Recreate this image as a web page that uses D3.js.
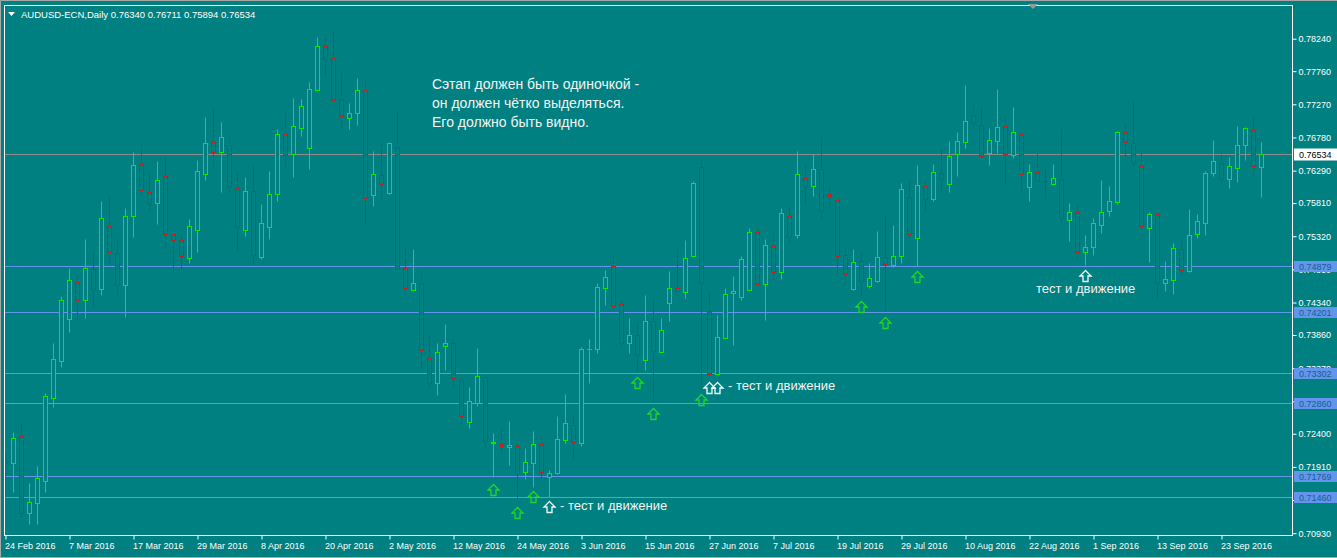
<!DOCTYPE html>
<html>
<head>
<meta charset="utf-8">
<script src="https://cdn.jsdelivr.net/npm/d3@7"></script>
<style>
  html, body { margin: 0; padding: 0; background: #008080; }
  svg { display: block; }
  text { font-family: "Liberation Sans", Arial, sans-serif; }
</style>
</head>
<body>
<svg id="chart" width="1337" height="558"></svg>
<script>
// AUDUSD-ECN daily, 24 Feb 2016 .. end Sep 2016 (one entry per trading day)
const opens = [0.71990,0.71964,0.72367,0.71233,0.71381,0.71706,0.72924,0.73471,0.74092,0.74648,0.74373,0.74831,0.74540,0.75467,0.75068,0.74595,0.75615,0.76383,0.75970,0.75807,
  0.76206,0.75349,0.75260,0.74994,0.75408,0.76235,0.76709,0.76561,0.76664,0.76029,0.75408,0.75984,0.75009,0.75452,0.75940,0.76827,0.76531,0.76916,0.76620,0.77477,
  0.78128,0.77950,0.77344,0.77063,0.77137,0.77477,0.75925,0.76220,0.75955,0.76635,0.74846,0.74521,0.74624,0.73516,0.73146,0.73693,0.73737,0.73205,0.72570,0.72851,
  0.73235,0.72264,0.72245,0.72200,0.72215,0.71831,0.71964,0.72245,0.71757,0.71816,0.72304,0.72525,0.72264,0.73646,0.73649,0.74550,0.74876,0.74314,0.73737,0.73856,
  0.73486,0.74063,0.73604,0.74329,0.74550,0.74491,0.75024,0.76338,0.74211,0.73279,0.73811,0.74476,0.74417,0.74521,0.75378,0.74609,0.75171,0.74787,0.75615,0.75334,
  0.76176,0.76058,0.76310,0.75940,0.75851,0.75038,0.74536,0.74949,0.74580,0.74654,0.75009,0.74890,0.75024,0.75896,0.75290,0.76058,0.75866,0.76250,0.76087,0.76531,
  0.76709,0.77108,0.76960,0.76546,0.76723,0.76945,0.76516,0.76827,0.76044,0.76270,0.76139,0.76087,0.76161,0.75556,0.75674,0.75083,0.75157,0.75482,0.75689,0.75822,
  0.76856,0.76694,0.76353,0.75437,0.75644,0.74624,0.74669,0.75127,0.74802,0.75349,0.75511,0.76250,0.76403,0.76161,0.76324,0.76664,0.76886,0.76340];
const highs = [0.72135,0.72431,0.72564,0.71677,0.71924,0.73007,0.73746,0.74441,0.74850,0.74722,0.75279,0.75117,0.75841,0.75930,0.75279,0.75733,0.76569,0.76669,0.76255,0.76427,
  0.76487,0.75352,0.75349,0.75575,0.76447,0.77078,0.77226,0.77004,0.76783,0.76284,0.76191,0.76368,0.75797,0.76284,0.76901,0.77152,0.77359,0.77344,0.77596,0.78261,
  0.78290,0.78349,0.77743,0.77285,0.77655,0.77655,0.76575,0.76679,0.76709,0.77182,0.75171,0.75127,0.74772,0.73841,0.73737,0.74018,0.73796,0.73235,0.73087,0.73663,
  0.73279,0.72407,0.72481,0.72585,0.72274,0.72185,0.72437,0.72348,0.71860,0.72658,0.72984,0.72688,0.73678,0.73796,0.74624,0.74817,0.75038,0.74373,0.74107,0.74048,
  0.74447,0.74403,0.74107,0.74802,0.75127,0.75260,0.76132,0.76443,0.74506,0.74151,0.74550,0.74728,0.75024,0.75437,0.75437,0.75275,0.75378,0.75733,0.75748,0.76575,
  0.76383,0.76531,0.76787,0.76058,0.75866,0.75171,0.75127,0.75083,0.74920,0.75393,0.75644,0.75482,0.76102,0.76147,0.76368,0.76132,0.76388,0.76635,0.76723,0.76856,
  0.77551,0.77256,0.77241,0.76916,0.77492,0.77078,0.77226,0.76856,0.76388,0.76546,0.76338,0.76383,0.76916,0.75807,0.75792,0.75334,0.75585,0.76147,0.76058,0.76871,
  0.76990,0.77315,0.76561,0.75674,0.75674,0.74949,0.75216,0.75260,0.75718,0.75644,0.76284,0.76738,0.76531,0.76487,0.76945,0.76930,0.77097,0.76711];
const lows = [0.71461,0.71544,0.71165,0.71066,0.71066,0.71544,0.72800,0.73391,0.73909,0.74092,0.74116,0.74270,0.74456,0.74920,0.74447,0.74131,0.75313,0.75940,0.75689,0.75505,
  0.75180,0.74772,0.74840,0.74920,0.75092,0.76147,0.76338,0.75978,0.75984,0.75097,0.75319,0.74905,0.74979,0.75275,0.75836,0.76338,0.76191,0.76797,0.76310,0.77463,
  0.77670,0.77319,0.76930,0.76901,0.76960,0.75482,0.75763,0.75866,0.75940,0.74821,0.74462,0.74511,0.73368,0.73072,0.72978,0.73338,0.73087,0.72525,0.72481,0.72806,
  0.72200,0.71757,0.72111,0.71934,0.71446,0.71727,0.71609,0.71727,0.71470,0.71801,0.72259,0.72008,0.72219,0.73146,0.73590,0.74299,0.74211,0.73693,0.73590,0.73309,
  0.73338,0.72865,0.73590,0.74063,0.74496,0.74403,0.75009,0.73043,0.73250,0.73264,0.73796,0.73708,0.74373,0.74506,0.74536,0.74077,0.74654,0.74683,0.75216,0.75290,
  0.75777,0.75910,0.75570,0.75748,0.74757,0.74609,0.74521,0.74417,0.74550,0.74639,0.74211,0.74861,0.74920,0.75275,0.74876,0.75674,0.75836,0.75970,0.75970,0.76206,
  0.76620,0.76916,0.76457,0.76368,0.76546,0.76087,0.76472,0.75984,0.75836,0.76132,0.75881,0.76073,0.75511,0.75245,0.74994,0.74890,0.75038,0.75363,0.75615,0.75792,
  0.76502,0.76353,0.75423,0.74935,0.74403,0.74506,0.74462,0.74743,0.74787,0.75290,0.75334,0.76206,0.76087,0.76029,0.76117,0.76443,0.76235,0.75894];
const closes = [0.71975,0.72333,0.71233,0.71387,0.71742,0.72958,0.73501,0.74373,0.74669,0.74373,0.74846,0.74540,0.75585,0.75087,0.74595,0.75615,0.76368,0.75999,0.75807,0.76147,
  0.75349,0.75260,0.75024,0.75467,0.76284,0.76694,0.76561,0.76783,0.76044,0.75452,0.75984,0.75038,0.75511,0.75940,0.76827,0.76516,0.76945,0.77241,0.77492,0.78128,
  0.77936,0.77330,0.77097,0.77137,0.77477,0.75881,0.76235,0.76087,0.76694,0.74831,0.74550,0.74624,0.73634,0.73146,0.73604,0.73737,0.73220,0.72658,0.72880,0.73250,
  0.72289,0.72278,0.72215,0.72230,0.71816,0.71979,0.72245,0.71831,0.71816,0.72318,0.72555,0.72274,0.73649,0.73660,0.74565,0.74713,0.74284,0.73737,0.73856,0.73560,
  0.74063,0.73619,0.73930,0.74550,0.74506,0.74994,0.76102,0.74624,0.73279,0.73826,0.74462,0.74506,0.74979,0.75378,0.74609,0.75186,0.74787,0.75659,0.75304,0.76235,
  0.76073,0.76310,0.75689,0.75910,0.75024,0.74757,0.74935,0.74654,0.74698,0.75009,0.74905,0.75024,0.76014,0.75349,0.76073,0.75866,0.76270,0.76161,0.76502,0.76723,
  0.77019,0.76990,0.76502,0.76738,0.76930,0.76531,0.76856,0.76235,0.76270,0.76132,0.76133,0.76176,0.75604,0.75674,0.75083,0.75157,0.75511,0.75674,0.75836,0.76856,
  0.76709,0.76403,0.75467,0.75644,0.74624,0.74683,0.75142,0.74817,0.75334,0.75541,0.76250,0.76427,0.76161,0.76353,0.76664,0.76916,0.76353,0.76534];

// time axis: a label every 8 bars
const dateTickIdx = [0,8,16,24,32,40,48,56,64,72,80,88,96,104,112,120,128,136,144,152];
const dateLabels = ["24 Feb 2016","7 Mar 2016","17 Mar 2016","29 Mar 2016","8 Apr 2016","20 Apr 2016","2 May 2016","12 May 2016",
  "24 May 2016","3 Jun 2016","15 Jun 2016","27 Jun 2016","7 Jul 2016","19 Jul 2016","29 Jul 2016","10 Aug 2016","22 Aug 2016",
  "1 Sep 2016","13 Sep 2016","23 Sep 2016"];
const priceTicks = [0.78240,0.77760,0.77270,0.76780,0.76290,0.75810,0.75320,0.74830,0.74340,0.73860,0.73370,0.72880,0.72400,0.71910,0.71420,0.70930];

// horizontal levels drawn on the chart
const levelPrices = [0.74879,0.74201,0.73302,0.72860,0.71769,0.71460];
const lastPrice = 0.76534;

// arrow marks: bar index, anchor price, kind
const arrowIdx   = [61,64,66,68,79,81,87,88,89,107,110,114,135];
const arrowPrice = [0.71662,0.71322,0.71559,0.71411,0.73239,0.72777,0.72988,0.73170,0.73170,0.74367,0.74122,0.74811,0.74821];
const arrowKind  = ["g","g","g","w","g","g","g","w","w","g","g","g","w"];

const notes = [
  {x: 432, y: 89,  size: 14, t: "Сэтап должен быть одиночкой -"},
  {x: 432, y: 108, size: 14, t: "он должен чётко выделяться."},
  {x: 432, y: 127, size: 14, t: "Его должно быть видно."},
  {x: 560, y: 510, size: 13, t: "- тест и движение"},
  {x: 728, y: 390, size: 13, t: "- тест и движение"},
  {x: 1036, y: 293, size: 13, t: "тест и движение"}
];

const W = 1337, H = 558;
const pLeft = 4, pRight = 1292, pTop = 5, pBottom = 535;
const bg = '#008080', bull = '#00f000', bear = '#c81e1e';

const svg = d3.select('#chart');
svg.append('rect').attr('width', W).attr('height', H).attr('fill', bg);
// window edge
svg.append('path').attr('d', `M0.5,${H} L0.5,0.5 L${W},0.5 M0,${H - 0.5} L${W},${H - 0.5}`)
  .attr('fill', 'none').attr('stroke', '#a8a8a8');

const x = d3.scaleLinear().domain([0, 157]).range([5, 1261]);
const y = d3.scaleLinear().domain([0.7824, 0.7093]).range([38.7, 533.2]);
const px = v => Math.round(x(v)) + 0.5;
const py = v => Math.round(y(v)) + 0.5;

svg.append('defs').append('clipPath').attr('id', 'clip')
  .append('rect').attr('x', pLeft + 1).attr('y', pTop + 1).attr('width', pRight - pLeft - 1).attr('height', pBottom - pTop - 1);
const plot = svg.append('g').attr('clip-path', 'url(#clip)');

// level lines
plot.selectAll('.lvl').data(levelPrices).enter().append('line')
  .attr('x1', pLeft).attr('x2', pRight)
  .attr('y1', d => py(d)).attr('y2', d => py(d))
  .attr('stroke', '#6495ed').attr('stroke-width', 1);

// last price line
plot.append('line').attr('x1', pLeft).attr('x2', pRight)
  .attr('y1', py(lastPrice)).attr('y2', py(lastPrice))
  .attr('stroke', '#8c8c8c');

// candles
const bars = d3.range(opens.length).map(i => ({i, o: opens[i], h: highs[i], l: lows[i], c: closes[i]}));
const candle = plot.selectAll('.candle').data(bars).enter().append('g');
candle.append('line')
  .attr('x1', d => px(d.i)).attr('x2', d => px(d.i))
  .attr('y1', d => py(d.h)).attr('y2', d => py(d.l))
  .attr('stroke', d => d.c >= d.o ? bull : bear);
candle.append('rect')
  .attr('x', d => px(d.i) - 2).attr('width', 4)
  .attr('y', d => py(Math.max(d.o, d.c)))
  .attr('height', d => Math.max(0.01, py(Math.min(d.o, d.c)) - py(Math.max(d.o, d.c))))
  .attr('fill', bg)
  .attr('stroke', d => d.c >= d.o ? bull : bear);

// arrows
const arrowPath = (cx, t) => `M${cx},${t} L${cx + 5.5},${t + 5.5} L${cx + 2.5},${t + 5.5} L${cx + 2.5},${t + 11} ` +
  `L${cx - 2.5},${t + 11} L${cx - 2.5},${t + 5.5} L${cx - 5.5},${t + 5.5} Z`;
plot.selectAll('.arrow').data(arrowIdx).enter().append('path')
  .attr('d', (d, k) => arrowPath(Math.round(x(d)) + 0.5, Math.round(y(arrowPrice[k])) + 0.5))
  .attr('fill', 'none')
  .attr('stroke', (d, k) => arrowKind[k] === 'g' ? '#20d820' : '#f4ffff')
  .attr('stroke-width', 1.3)
  .attr('stroke-linejoin', 'miter');

// notes
svg.selectAll('.note').data(notes).enter().append('text')
  .attr('x', d => d.x).attr('y', d => d.y)
  .attr('font-size', d => d.size)
  .attr('fill', '#f4f4f4')
  .text(d => d.t);

// frame
svg.append('rect').attr('x', pLeft + 0.5).attr('y', pTop + 0.5)
  .attr('width', pRight - pLeft).attr('height', pBottom - pTop)
  .attr('fill', 'none').attr('stroke', '#ffffff');
svg.append('path').attr('d', 'M1028,4 L1038,4 L1033,9 Z').attr('fill', '#9a9a9a');

// price axis
const yAxis = d3.axisRight(y).tickValues(priceTicks).tickFormat(d3.format('.5f')).tickSize(4).tickSizeOuter(0);
const ga = svg.append('g').attr('transform', `translate(${pRight + 0.5},0)`).call(yAxis);
ga.select('.domain').remove();
ga.selectAll('line').attr('stroke', '#fff');
ga.selectAll('text').attr('fill', '#fff').attr('font-size', 9).attr('x', 6)
  .attr('font-family', '"Liberation Sans", Arial, sans-serif');

// level labels
const lab = svg.selectAll('.lvlLab').data(levelPrices).enter().append('g')
  .attr('transform', d => `translate(${pRight + 2},${py(d)})`);
lab.append('rect').attr('x', 0).attr('y', -5.5).attr('width', 43).attr('height', 11).attr('fill', '#6495ed');
lab.append('text').attr('x', 5).attr('y', 3.5).attr('font-size', 9).attr('fill', '#15608e').text(d => d.toFixed(5));

const cur = svg.append('g').attr('transform', `translate(${pRight + 2},${py(lastPrice)})`);
cur.append('rect').attr('x', 0).attr('y', -6).attr('width', 43).attr('height', 12).attr('fill', '#ffffff');
cur.append('text').attr('x', 5).attr('y', 3.5).attr('font-size', 9).attr('fill', '#000').text(lastPrice.toFixed(5));

// time axis
const xAxis = d3.axisBottom(x).tickValues(dateTickIdx).tickFormat((d, k) => dateLabels[k]).tickSize(4).tickSizeOuter(0);
const gx = svg.append('g').attr('transform', `translate(0.5,${pBottom + 0.5})`).call(xAxis);
gx.select('.domain').remove();
gx.selectAll('line').attr('stroke', '#fff');
gx.selectAll('text').attr('fill', '#fff').attr('font-size', 9).attr('text-anchor', 'start')
  .attr('x', -1).attr('y', 7).attr('dy', '0.71em')
  .attr('font-family', '"Liberation Sans", Arial, sans-serif');

// header
svg.append('path').attr('d', 'M8,12 L15,12 L11.5,16 Z').attr('fill', '#fff');
svg.append('text').attr('x', 21).attr('y', 17.5).attr('font-size', 9.5).attr('fill', '#fff')
  .text('AUDUSD-ECN,Daily  0.76340 0.76711 0.75894 0.76534');
</script>
</body>
</html>
